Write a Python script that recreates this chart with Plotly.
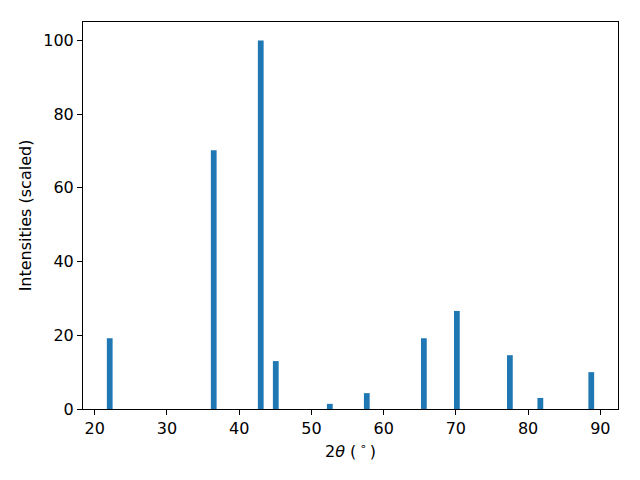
import plotly.graph_objects as go

two_theta = [22.08, 36.48, 42.99, 45.07, 52.55, 57.67, 65.57, 70.14, 77.48, 81.70, 88.75]
intensity = [19.2, 70.2, 100.0, 13.0, 1.4, 4.3, 19.2, 26.6, 14.6, 3.0, 10.0]
x_ticks = [20, 30, 40, 50, 60, 70, 80, 90]
y_ticks = [0, 20, 40, 60, 80, 100]

fig = go.Figure(go.Bar(x=two_theta, y=intensity, width=0.8,
                       marker=dict(color="#1f77b4", line=dict(width=0))))

axis_common = dict(showline=True, linecolor="black", linewidth=1, mirror=True,
                   ticks="outside", ticklen=5, tickwidth=1, tickcolor="black",
                   showgrid=False, zeroline=False,
                   tickfont=dict(family="DejaVu Sans", size=16, color="black"))

fig.update_layout(
    width=632, height=472,
    margin=dict(l=75, r=22, t=14, b=71),
    paper_bgcolor="white", plot_bgcolor="white",
    showlegend=False,
    font=dict(family="DejaVu Sans", size=16, color="black"),
    xaxis=dict(range=[18.38, 92.45], tickvals=x_ticks,
               title=dict(text="2<i>θ</i> (\u2009<sup>∘</sup>\u2009)", standoff=8,
                          font=dict(family="DejaVu Sans", size=16)),
               **axis_common),
    yaxis=dict(range=[0, 105], tickvals=y_ticks,
               title=dict(text="Intensities (scaled)", standoff=7,
                          font=dict(family="DejaVu Sans", size=16)),
               **axis_common),
)

fig.write_html("out.html")
